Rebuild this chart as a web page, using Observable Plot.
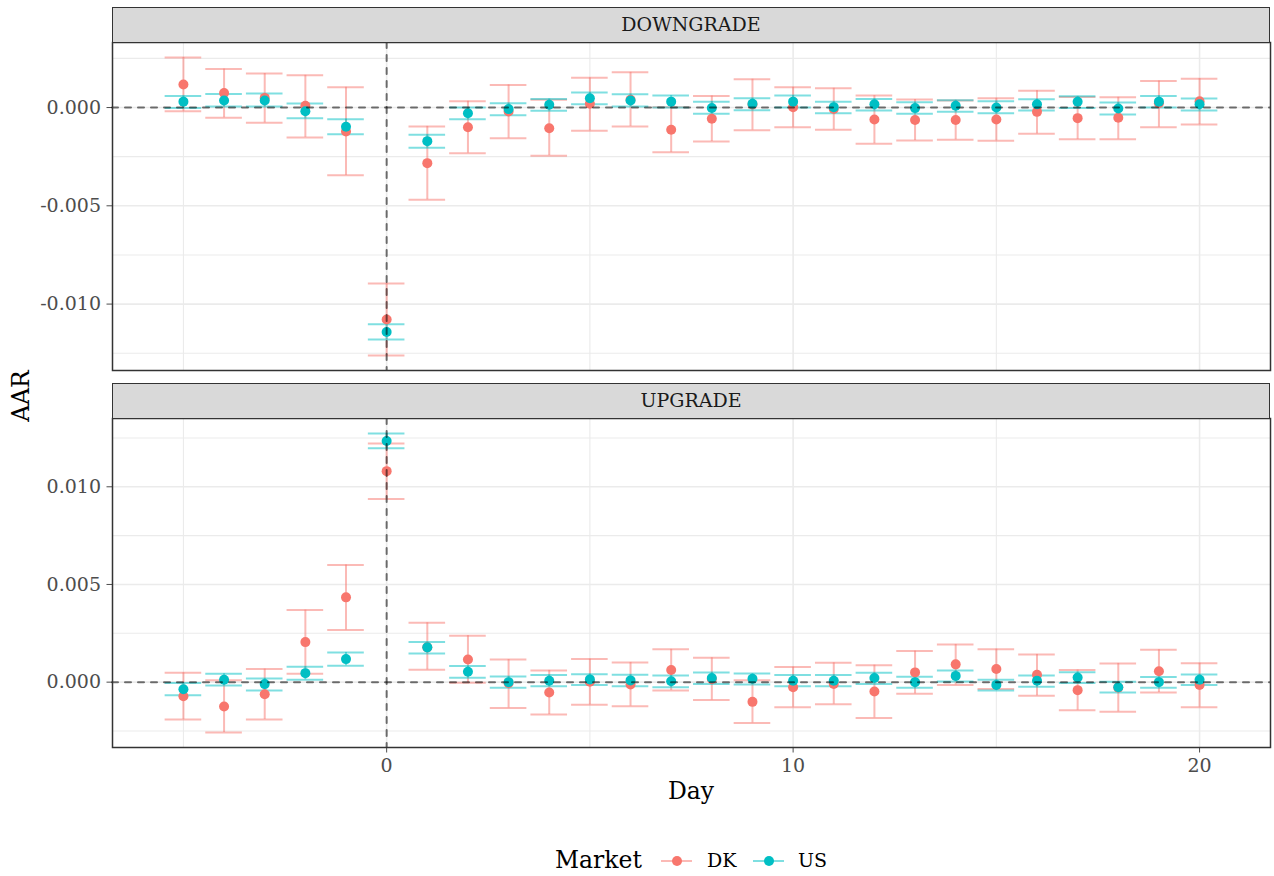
<!DOCTYPE html>
<html><head><meta charset="utf-8">
<script src="https://cdn.jsdelivr.net/npm/d3@7"></script>
<script src="https://cdn.jsdelivr.net/npm/@observablehq/plot@0.6"></script>
<style>
body{margin:0;background:#fff;}
#wrap{position:relative;width:1274px;height:876px;font-family:"DejaVu Serif",serif;overflow:hidden;background:#fff;}
#wrap svg{position:absolute;left:0;}
.strip{position:absolute;left:112px;width:1158px;height:36px;box-sizing:border-box;background:#D9D9D9;border:1.5px solid #333;display:flex;align-items:center;justify-content:center;font-size:19px;color:#1A1A1A;line-height:1;}
.t{position:absolute;white-space:nowrap;line-height:1;}
</style></head>
<body><div id="wrap"></div>
<script>
const days = [-5,-4,-3,-2,-1,0,1,2,3,4,5,6,7,8,9,10,11,12,13,14,15,16,17,18,19,20];
const markets = ["DK","US"];
const marketColors = ["#F8766D","#00BFC4"];
const panels = ["DOWNGRADE","UPGRADE"];

// DOWNGRADE
const downDK   = [0.00117,0.00074,0.00049,0.00009,-0.00122,-0.01078,-0.00283,-0.00100,-0.00020,-0.00105,0.00019,0.00039,-0.00113,-0.00057,0.00015,0.00002,-0.00007,-0.00061,-0.00063,-0.00063,-0.00061,-0.00022,-0.00054,-0.00052,0.00022,0.00032];
const downDKlo = [-0.00019,-0.00052,-0.00078,-0.00152,-0.00345,-0.01262,-0.00469,-0.00232,-0.00156,-0.00245,-0.00118,-0.00096,-0.00228,-0.00173,-0.00115,-0.00100,-0.00113,-0.00184,-0.00168,-0.00164,-0.00169,-0.00134,-0.00162,-0.00161,-0.00100,-0.00086];
const downDKhi = [0.00255,0.00196,0.00173,0.00164,0.00103,-0.00895,-0.00096,0.00032,0.00115,0.00039,0.00151,0.00179,0.00002,0.00059,0.00144,0.00103,0.00098,0.00061,0.00041,0.00036,0.00047,0.00086,0.00054,0.00052,0.00135,0.00147];
const downUS   = [0.00030,0.00036,0.00036,-0.00019,-0.00098,-0.01142,-0.00171,-0.00029,-0.00008,0.00014,0.00047,0.00036,0.00030,-0.00002,0.00019,0.00030,0.00002,0.00017,-0.00003,0.00009,0.00000,0.00017,0.00029,-0.00005,0.00030,0.00017];
const downUSlo = [-0.00002,0.00005,0.00005,-0.00054,-0.00136,-0.01180,-0.00205,-0.00059,-0.00039,-0.00017,0.00017,0.00005,0.00000,-0.00032,-0.00014,0.00000,-0.00029,-0.00015,-0.00032,-0.00022,-0.00029,-0.00015,-0.00003,-0.00036,0.00000,-0.00015];
const downUShi = [0.00059,0.00069,0.00071,0.00020,-0.00059,-0.01103,-0.00139,0.00000,0.00022,0.00044,0.00076,0.00068,0.00061,0.00030,0.00047,0.00061,0.00030,0.00044,0.00027,0.00037,0.00032,0.00042,0.00057,0.00025,0.00059,0.00046];

// UPGRADE
const upDK   = [-0.00072,-0.00125,-0.00062,0.00205,0.00434,0.01080,0.00178,0.00116,-0.00005,-0.00053,0.00002,-0.00012,0.00062,0.00016,-0.00101,-0.00026,-0.00009,-0.00048,0.00050,0.00091,0.00067,0.00038,-0.00041,-0.00028,0.00056,-0.00015];
const upDKlo = [-0.00191,-0.00258,-0.00191,0.00043,0.00267,0.00938,0.00063,-0.00003,-0.00132,-0.00166,-0.00116,-0.00123,-0.00043,-0.00092,-0.00209,-0.00128,-0.00113,-0.00183,-0.00060,-0.00014,-0.00035,-0.00070,-0.00144,-0.00152,-0.00053,-0.00128];
const upDKhi = [0.00048,0.00010,0.00067,0.00369,0.00600,0.01221,0.00304,0.00238,0.00116,0.00060,0.00118,0.00101,0.00168,0.00125,0.00010,0.00077,0.00099,0.00087,0.00159,0.00193,0.00169,0.00142,0.00062,0.00096,0.00166,0.00097];
const upUS   = [-0.00036,0.00012,-0.00010,0.00046,0.00118,0.01234,0.00178,0.00053,0.00000,0.00007,0.00014,0.00009,0.00005,0.00021,0.00017,0.00007,0.00007,0.00021,0.00000,0.00032,-0.00014,0.00007,0.00024,-0.00026,0.00000,0.00012];
const upUSlo = [-0.00067,-0.00017,-0.00043,0.00012,0.00084,0.01197,0.00147,0.00022,-0.00029,-0.00021,-0.00015,-0.00021,-0.00026,-0.00009,-0.00012,-0.00021,-0.00021,-0.00009,-0.00029,0.00003,-0.00043,-0.00024,-0.00005,-0.00053,-0.00029,-0.00015];
const upUShi = [-0.00005,0.00043,0.00019,0.00079,0.00152,0.01273,0.00205,0.00082,0.00029,0.00036,0.00041,0.00038,0.00034,0.00050,0.00044,0.00036,0.00036,0.00048,0.00027,0.00060,0.00012,0.00034,0.00051,0.00002,0.00026,0.00039];

const xTicks = [0,10,20];
const xMinor = [-5,5,15];
const downTicks = [-0.010,-0.005,0.000];
const downMinor = [-0.0125,-0.0075,-0.0025,0.0025];
const upTicks = [0.000,0.005,0.010];
const upMinor = [-0.0025,0.0025,0.0075,0.0125];

function rowsFor(market, aar, lo, hi) {
  return days.map((d,i) => ({day:d, market, aar:aar[i], lo:lo[i], hi:hi[i]}));
}
const downRows = [rowsFor("DK",downDK,downDKlo,downDKhi), rowsFor("US",downUS,downUSlo,downUShi)];
const upRows = [rowsFor("DK",upDK,upDKlo,upDKhi), rowsFor("US",upUS,upUSlo,upUShi)];

const halfW = 0.45;
function expand(ext, f=0.05){ const r = ext[1]-ext[0]; return [ext[0]-r*f, ext[1]+r*f]; }
const xDomain = expand([d3.min(days)-halfW, d3.max(days)+halfW]);

const wrap = document.getElementById("wrap");

function errorbar(rows) {
  const o = {stroke:"market", strokeWidth:2, strokeOpacity:0.5};
  return [
    Plot.ruleX(rows, {x:"day", y1:"lo", y2:"hi", ...o}),
    Plot.ruleY(rows, {y:"lo", x1:d=>d.day-halfW, x2:d=>d.day+halfW, ...o}),
    Plot.ruleY(rows, {y:"hi", x1:d=>d.day-halfW, x2:d=>d.day+halfW, ...o})
  ];
}

function panel({rows, ticks, minor, top, height, marginTop, marginBottom, showX}) {
  const all = rows.flat();
  const yDomain = expand([d3.min(all, d=>d.lo), d3.max(all, d=>d.hi)]);
  const dash = {stroke:"black", strokeOpacity:0.55, strokeWidth:2, strokeDasharray:"6,7", strokeLinecap:"round"};
  const svg = Plot.plot({
    width:1274, height, marginTop, marginBottom, marginLeft:112, marginRight:4,
    style:{fontFamily:"DejaVu Serif", fontSize:"19px", color:"#4D4D4D", background:"transparent", overflow:"visible"},
    x:{domain:xDomain, ticks:xTicks, tickFormat:d=>String(d), axis: showX ? "bottom" : null, label:null, tickSize:5.5, tickPadding:5},
    y:{domain:yDomain, ticks, tickFormat:d=>d.toFixed(3), label:null, tickSize:5.5, tickPadding:6},
    color:{domain:markets, range:marketColors},
    marks:[
      Plot.ruleY(minor, {stroke:"#EBEBEB", strokeWidth:1.1}),
      Plot.ruleX(xMinor, {stroke:"#EBEBEB", strokeWidth:1.1}),
      Plot.ruleY(ticks, {stroke:"#EBEBEB", strokeWidth:1.6}),
      Plot.ruleX(xTicks, {stroke:"#EBEBEB", strokeWidth:1.6}),
      ...errorbar(rows[0]),
      ...errorbar(rows[1]),
      Plot.dot(all, {x:"day", y:"aar", fill:"market", r:5}),
      Plot.ruleY([0], dash),
      Plot.ruleX([0], dash),
      Plot.frame({stroke:"#333", strokeWidth:1.5})
    ]
  });
  svg.style.top = top + "px";
  wrap.appendChild(svg);
}

panel({rows:downRows, ticks:downTicks, minor:downMinor, top:0, height:380, marginTop:42, marginBottom:10, showX:false});
panel({rows:upRows, ticks:upTicks, minor:upMinor, top:370, height:430, marginTop:48, marginBottom:53, showX:true});

function addStrip(text, top) {
  const s = document.createElement("div");
  s.className = "strip"; s.style.top = top + "px"; s.textContent = text;
  wrap.appendChild(s);
}
addStrip(panels[0], 6.5);
addStrip(panels[1], 382.5);

function addText(text, css) {
  const t = document.createElement("div");
  t.className = "t"; t.textContent = text;
  Object.assign(t.style, css);
  wrap.appendChild(t);
  return t;
}
// axis titles
addText("AAR", {left:"22px", top:"396px", fontSize:"23.5px", color:"#000", transform:"translate(-50%,-50%) rotate(-90deg)"});
addText("Day", {left:"112px", width:"1158px", textAlign:"center", top:"780px", fontSize:"23.5px", color:"#000"});

// legend
addText("Market", {left:"555px", top:"849px", fontSize:"23.5px", color:"#000"});
const keyX = [661, 753];
const labX = [707, 798];
markets.forEach((m,i) => {
  const line = document.createElement("div");
  Object.assign(line.style, {position:"absolute", left:keyX[i]+"px", top:"860px", width:"31px", height:"2px", background:marketColors[i], opacity:"0.5"});
  wrap.appendChild(line);
  const dot = document.createElement("div");
  Object.assign(dot.style, {position:"absolute", left:(keyX[i]+15.5-5)+"px", top:"856px", width:"10px", height:"10px", borderRadius:"50%", background:marketColors[i]});
  wrap.appendChild(dot);
  addText(m, {left:labX[i]+"px", top:"851px", fontSize:"19px", color:"#000"});
});
</script>
</body></html>
